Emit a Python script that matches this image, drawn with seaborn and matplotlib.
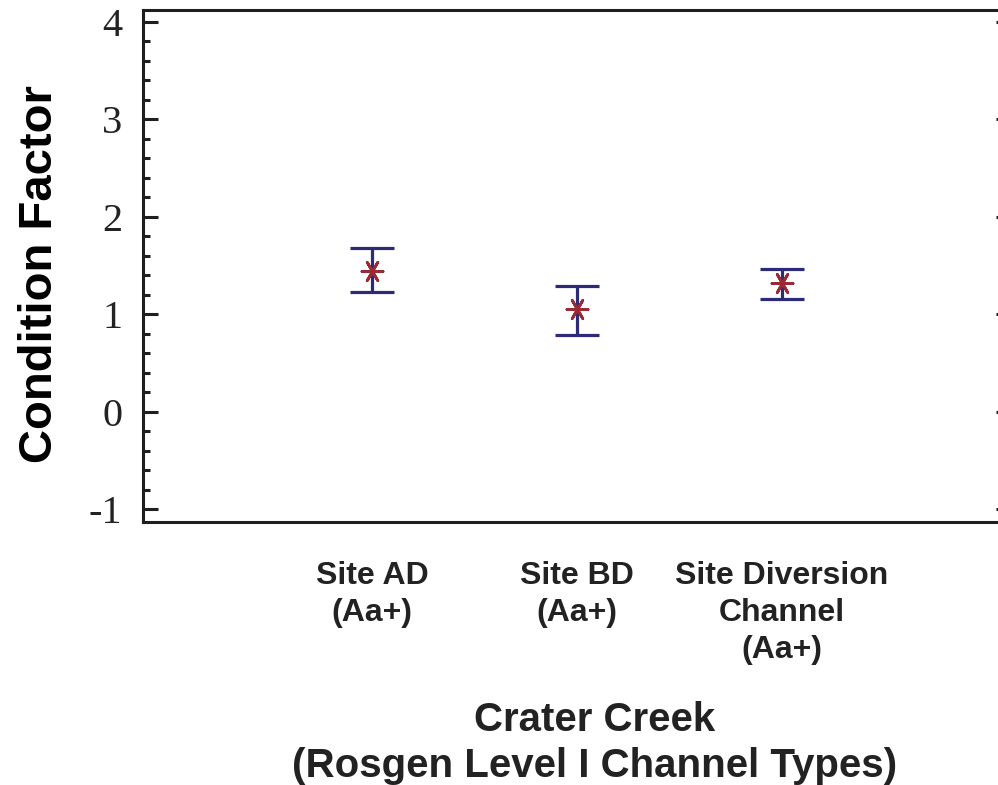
import numpy as np
import pandas as pd
import matplotlib
matplotlib.use("Agg")
import matplotlib.pyplot as plt
import seaborn as sns
from matplotlib.ticker import MultipleLocator

# Values
sites = ["Site AD\n(Aa+)", "Site BD\n(Aa+)", "Site Diversion\nChannel\n(Aa+)"]
means = [1.45, 1.06, 1.32]
upper = [1.68, 1.29, 1.47]
lower = [1.23, 0.79, 1.16]

data = pd.DataFrame({"site": sites, "mean": means, "upper": upper, "lower": lower})
data["pos"] = np.arange(len(sites))

sns.set_style("ticks")
plt.rcParams["font.family"] = ["Liberation Sans", "DejaVu Sans"]

fig = plt.figure(figsize=(9.98, 7.85), dpi=100)
ax = fig.add_axes([0.1433, 0.335, 0.8697, 0.652])

navy = "#2d2a78"
red = "#9b2a35"

# Error bars (interval) then the mean markers
ax.errorbar(data["pos"], data["mean"],
            yerr=[data["mean"] - data["lower"], data["upper"] - data["mean"]],
            fmt="none", ecolor=navy, elinewidth=2.3, capsize=16, capthick=2.3,
            zorder=2)
sns.scatterplot(x="pos", y="mean", data=data, ax=ax, marker=(6, 2, 90),
                s=230, color=red, linewidth=2, zorder=3, legend=False)

ax.set_xlim(-1.12, 3.12)
ax.set_ylim(-1.13, 4.12)
ax.yaxis.set_major_locator(MultipleLocator(1))
ax.yaxis.set_minor_locator(MultipleLocator(0.2))
ax.set_xticks(data["pos"])
ax.set_xticklabels(data["site"], fontsize=23, fontweight="bold", color="#222222",
                   linespacing=1.3)
ax.set_yticks([-1, 0, 1, 2, 3, 4])
ax.set_yticklabels(["-1", "0", "1", "2", "3", "4"], family="Liberation Serif", fontsize=29)

for side in ["left", "right", "top", "bottom"]:
    ax.spines[side].set_visible(True)
    ax.spines[side].set_linewidth(2.2)
    ax.spines[side].set_color("#1f1f1f")

ax.tick_params(axis="y", which="major", direction="in", length=11, width=2.2,
               left=True, right=True, pad=15, colors="#1f1f1f")
ax.tick_params(axis="y", which="minor", direction="in", length=5, width=2.2,
               left=True, right=True, colors="#1f1f1f")
ax.tick_params(axis="y", labelcolor="#222222")
ax.tick_params(axis="x", length=0, pad=28)

ax.set_ylabel("Condition Factor", fontsize=34, fontweight="bold", color="black")
ax.yaxis.set_label_coords(-0.0933, 0.484)
ax.set_xlabel("Crater Creek\n(Rosgen Level I Channel Types)", fontsize=29,
              fontweight="bold", linespacing=1.28, color="#222222")
ax.xaxis.set_label_coords(0.52, -0.349)
ax.xaxis.label.set_va("top")

fig.savefig("out.png", dpi=100)
